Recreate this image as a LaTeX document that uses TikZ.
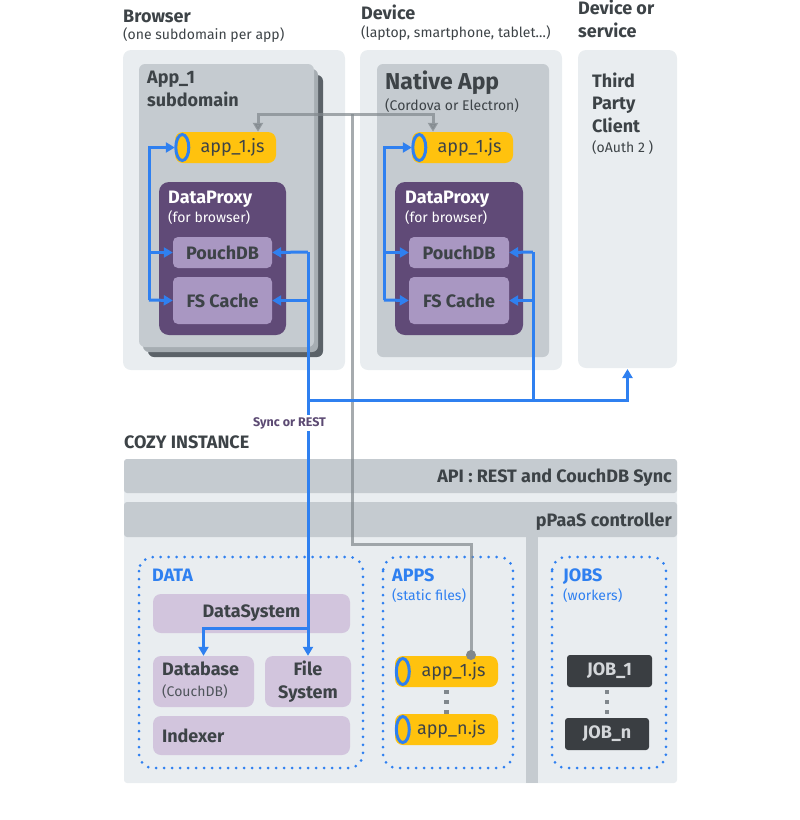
\documentclass[tikz,border=0pt]{standalone}
\usepackage{fontspec}
\setmainfont{Fira Sans}
\usetikzlibrary{arrows.meta}

\definecolor{PanelGray}{HTML}{E9EDF0}
\definecolor{CardGray}{HTML}{C5CBD0}
\definecolor{StackDark}{HTML}{5B6268}
\definecolor{StackMid}{HTML}{A6ADB2}
\definecolor{ProxyPurple}{HTML}{604A77}
\definecolor{CachePurple}{HTML}{A997C2}
\definecolor{DataLilac}{HTML}{D2C5DD}
\definecolor{AppYellow}{HTML}{FFC20E}
\definecolor{LinkBlue}{HTML}{2F80F0}
\definecolor{InkGray}{HTML}{3D4347}
\definecolor{NoteGray}{HTML}{4E545A}
\definecolor{JobDark}{HTML}{3A3E42}
\definecolor{JobText}{HTML}{D4D7DA}
\definecolor{WireGray}{HTML}{80878C}
\definecolor{TagPurple}{HTML}{5C4A73}

\newcommand{\HeadFont}{\fontsize{18}{22.5}\selectfont\bfseries}
\newcommand{\SubFont}{\fontsize{14}{16}\selectfont}
\newcommand{\BigFont}{\fontsize{23}{26}\selectfont\bfseries}
\newcommand{\AppFont}{\fontsize{18}{20}\selectfont}
\newcommand{\TagFont}{\fontsize{12.5}{14}\selectfont\bfseries}

\begin{document}
\begin{tikzpicture}[x=1pt,y=-1pt]
\useasboundingbox (0,0) rectangle (800,820);

\coordinate (GTop) at (352,114);
\coordinate (GMid) at (352,544);
\coordinate (GDot) at (471,655);
\coordinate (BBus) at (149,300);
\coordinate (NBus) at (384,300);
\coordinate (RB) at (308,252);
\coordinate (RN) at (533,252);
\coordinate (SyncJ) at (308,400);
\coordinate (DSJ) at (308,628);
\coordinate (ThirdP) at (627.5,369);


\fill[PanelGray, rounded corners=8pt] (123,50) rectangle (345,370);
\fill[PanelGray, rounded corners=8pt] (360,50) rectangle (562,370);
\fill[PanelGray, rounded corners=8pt] (578,50) rectangle (677,368);
\fill[StackDark, rounded corners=6pt] (148,75) rectangle (323,357);
\fill[StackMid, rounded corners=6pt] (143,69) rectangle (318,352);
\fill[CardGray, rounded corners=6pt] (139,64) rectangle (314,347);
\fill[CardGray, rounded corners=6pt] (377,64) rectangle (549,357);
\fill[ProxyPurple, rounded corners=10pt] (159,182) rectangle (286,335);
\fill[ProxyPurple, rounded corners=10pt] (395,182) rectangle (523,335);

\fill[PanelGray, rounded corners=3pt] (124,459) rectangle (677,783);
\fill[CardGray, rounded corners=3pt] (124,459) rectangle (677,493);
\fill[CardGray, rounded corners=3pt] (124,502) rectangle (677,537);
\fill[CardGray] (526,537) rectangle (538,783);


\tikzset{TextStyle/.style = {anchor=base west, inner sep=0pt, text=InkGray} }

\node[TextStyle, font=\HeadFont] (tBrowser) at (123,22) {Browser};
\node[TextStyle, font=\SubFont] (tBrowserSub) at (123,39) {(one subdomain per app)};
\node[TextStyle, font=\HeadFont] (tDevice) at (361,19) {Device};
\node[TextStyle, font=\SubFont] (tDeviceSub) at (361,37) {(laptop, smartphone, tablet…)};
\node[TextStyle, font=\HeadFont, align=left] (tService) at (578,37) {Device or\\service};
\node[TextStyle, font=\HeadFont, align=left] (tApp) at (147,106) {App\_1\\subdomain};
\node[TextStyle, font=\BigFont] (tNative) at (385,89) {Native App};
\node[TextStyle, font=\SubFont] (tNativeSub) at (385,110) {(Cordova or Electron)};
\node[TextStyle, font=\HeadFont, align=left] (tThird) at (592,132) {Third\\Party\\Client};
\node[TextStyle, font=\SubFont] (tThirdSub) at (592,152) {(oAuth 2 )};
\node[TextStyle, font=\HeadFont, text=white] (tProxyB) at (168,203) {DataProxy};
\node[TextStyle, font=\SubFont, text=white] (tProxyBSub) at (168,222) {(for browser)};
\node[TextStyle, font=\HeadFont, text=white] (tProxyN) at (405,203) {DataProxy};
\node[TextStyle, font=\SubFont, text=white] (tProxyNSub) at (405,222) {(for browser)};
\node[TextStyle, font=\HeadFont] (tCozy) at (124,448) {COZY INSTANCE};
\node[TextStyle, font=\HeadFont, anchor=base east] (tApi) at (672,482) {API : REST and CouchDB Sync};
\node[TextStyle, font=\HeadFont, anchor=base east] (tPaas) at (672,526) {pPaaS controller};
\node[TextStyle, font=\HeadFont, text=LinkBlue] (tData) at (152,581) {DATA};
\node[TextStyle, font=\HeadFont, text=LinkBlue] (tApps) at (392,581) {APPS};
\node[TextStyle, font=\SubFont, text=LinkBlue] (tAppsSub) at (392,600) {(static files)};
\node[TextStyle, font=\HeadFont, text=LinkBlue] (tJobs) at (563,581) {JOBS};
\node[TextStyle, font=\SubFont, text=LinkBlue] (tJobsSub) at (563,600) {(workers)};


\tikzset{GroupStyle/.style = {draw=LinkBlue, line width=3pt, line cap=round,
 dash pattern=on 0pt off 8pt, rounded corners=14pt} }

\draw[GroupStyle] (139,557) rectangle (363,768);
\draw[GroupStyle] (383,557) rectangle (513,768);
\draw[GroupStyle] (552,557) rectangle (666,768);


\tikzset{BoxStyle/.style = {
 shape = rectangle,
 rounded corners = 5pt,
 fill = CachePurple,
 text = InkGray,
 font = \HeadFont,
 inner sep = 0pt,
 minimum width = 99pt} }
\tikzset{DataStyle/.style = {BoxStyle, fill=DataLilac, rounded corners=8pt} }
\tikzset{PillStyle/.style = {
 shape = rectangle,
 rounded corners = 8pt,
 fill = AppYellow,
 text = InkGray,
 font = \AppFont,
 inner sep = 0pt,
 text width = 78pt,
 align = right,
 minimum width = 101pt,
 minimum height = 31pt} }
\tikzset{JobStyle/.style = {BoxStyle, fill=JobDark, text=JobText,
 rounded corners=3pt, minimum width=85pt, minimum height=32pt} }

\node[PillStyle] (bapp) at (225.5,147.5) {app\_1.js};
\node[PillStyle] (napp) at (462.5,147.5) {app\_1.js};
\node[BoxStyle, minimum height=31pt] (bpouch) at (222.5,252.5) {PouchDB};
\node[BoxStyle, minimum height=47pt] (bfs) at (222.5,300.5) {FS Cache};
\node[BoxStyle, minimum width=100pt, minimum height=31pt] (npouch) at (459,252.5) {PouchDB};
\node[BoxStyle, minimum width=100pt, minimum height=47pt] (nfs) at (459,300.5) {FS Cache};

\node[DataStyle, minimum width=197pt, minimum height=39pt] (dsys) at (251.5,613.5) {DataSystem};
\node[DataStyle, minimum width=101pt, minimum height=51pt] (dbase) at (203.5,681.5) {};
\node[DataStyle, minimum width=86pt, minimum height=51pt, align=center,
 font=\fontsize{18}{23}\selectfont\bfseries] (fsys) at (308,681.5) {File\\System};
\node[DataStyle, minimum width=197pt, minimum height=39pt, text width=179pt,
 align=left] (idx) at (251.5,735.5) {Indexer};
\node[TextStyle, font=\HeadFont] (tBase) at (162,675) {Database};
\node[TextStyle, font=\SubFont, text=NoteGray] (tBaseSub) at (162,696) {(CouchDB)};

\node[PillStyle, minimum width=103pt] (aapp1) at (446.5,671.5) {app\_1.js};
\node[PillStyle, minimum width=103pt] (aappn) at (446.5,729.5) {app\_n.js};
\node[JobStyle] (job1) at (609.5,671) {JOB\_1};
\node[JobStyle, minimum width=84pt] (jobn) at (607,734) {JOB\_n};

\draw[LinkBlue, line width=3pt, fill=AppYellow] ([xshift=7.5pt]bapp.west) ellipse [x radius=6.5pt, y radius=13pt];
\draw[LinkBlue, line width=3pt, fill=AppYellow] ([xshift=7.5pt]napp.west) ellipse [x radius=6.5pt, y radius=13pt];
\draw[LinkBlue, line width=3pt, fill=AppYellow] ([xshift=8pt]aapp1.west) ellipse [x radius=6.5pt, y radius=13pt];
\draw[LinkBlue, line width=3pt, fill=AppYellow] ([xshift=8pt]aappn.west) ellipse [x radius=6.5pt, y radius=13pt];


\tikzset{DotLink/.style = {draw=WireGray, line width=4.5pt, dash pattern=on 4pt off 6pt, dash phase=7pt} }

\draw[DotLink] (aapp1.south) -- (aappn.north);
\draw[DotLink] (job1.south -| jobn.north) -- (jobn.north);


\tikzset{WireStyle/.style = {draw=WireGray, opacity=0.7, line width=3pt} }
\tikzset{WireArrow/.style = {WireStyle, -{Triangle[length=9pt,width=10pt]}} }

\draw[WireStyle] (GDot) |- (GMid) -- (GTop);
\draw[WireArrow] (GTop) -| ([xshift=32.5pt]bapp.north);
\draw[WireArrow] (GTop) -| ([xshift=-29.5pt]napp.north);
\fill[WireGray] (GDot) circle (5pt);


\tikzset{BlueLine/.style = {draw=LinkBlue, line width=3pt} }
\tikzset{BlueArrow/.style = {BlueLine, -{Triangle[length=9pt,width=10pt]}} }

\draw[BlueArrow] (BBus) |- (bapp.west);
\draw[BlueArrow] (BBus |- bpouch.west) -- (bpouch.west);
\draw[BlueArrow] (BBus) -- (bfs.west);
\draw[BlueArrow] (NBus) |- (napp.west);
\draw[BlueArrow] (NBus |- npouch.west) -- (npouch.west);
\draw[BlueArrow] (NBus) -- (nfs.west);

\draw[BlueArrow] (RB) -- (bpouch.east);
\draw[BlueArrow] (RB |- bfs.east) -- (bfs.east);
\draw[BlueArrow] (RB) -- (RB |- fsys.north);
\draw[BlueArrow] (RN) -- (npouch.east);
\draw[BlueArrow] (RN |- nfs.east) -- (nfs.east);
\draw[BlueLine] (RN) -- (RN |- SyncJ);
\draw[BlueArrow] (SyncJ) -| (ThirdP);
\draw[BlueArrow] (DSJ) -| (dbase.north);

\node[TextStyle, font=\TagFont, text=TagPurple, fill=white, inner xsep=0pt, inner ysep=2pt] (tSync) at (253,426) {Sync or REST};

\end{tikzpicture}
\end{document}
